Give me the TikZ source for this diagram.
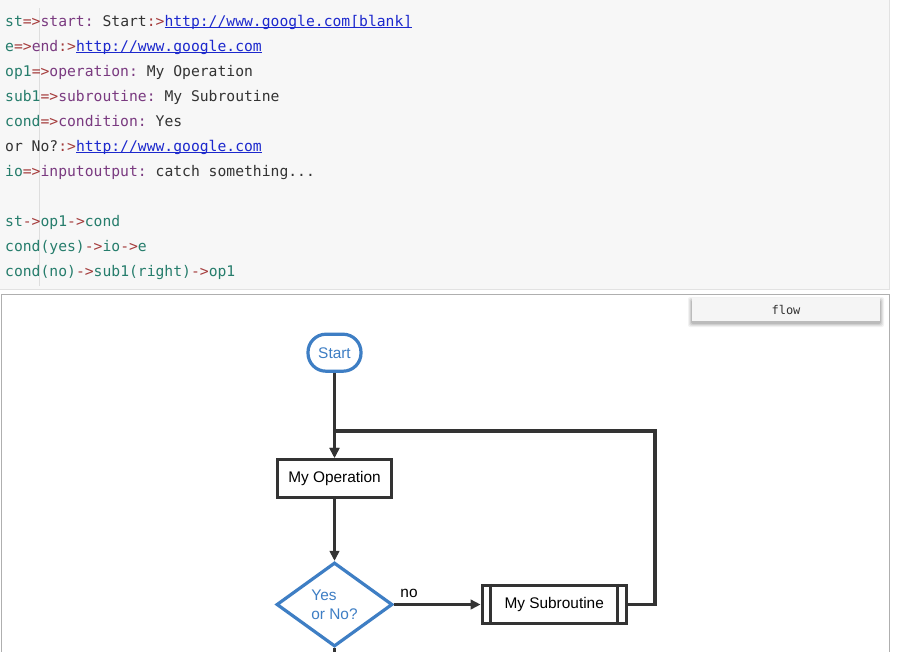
\documentclass[tikz,border=0pt]{standalone}
\usepackage{fontspec}
\setmonofont{DejaVu Sans Mono}
\newfontfamily\flowfont{Liberation Sans}
\usetikzlibrary{arrows.meta,shapes.geometric}
\definecolor{cteal}{RGB}{38,125,108}
\definecolor{cred}{RGB}{165,60,60}
\definecolor{cpurp}{RGB}{122,58,128}
\definecolor{cdark}{RGB}{51,51,51}
\definecolor{clink}{RGB}{28,40,205}
\definecolor{ccode}{RGB}{247,247,247}
\definecolor{cborder}{RGB}{226,226,226}
\definecolor{cpanel}{RGB}{175,175,175}
\definecolor{cbtn}{RGB}{245,245,245}
\definecolor{cblue}{RGB}{62,126,196}
\definecolor{cline}{RGB}{51,51,51}
\definecolor{cguide}{RGB}{222,222,222}
\newcommand\lnk[1]{{\color{clink}\setbox0\hbox{#1}\rlap{\rule[-2.4pt]{\wd0}{1pt}}\box0}}
\newcommand\tealtxt[1]{{\color{cteal}#1}}
\newcommand\redtxt[1]{{\color{cred}#1}}
\newcommand\purptxt[1]{{\color{cpurp}#1}}
\begin{document}
\begin{tikzpicture}[x=1pt,y=-1pt,
  code/.style={anchor=base west, inner sep=0pt, font=\ttfamily\fontsize{14.7}{17}\selectfont, text=cdark},
  flowline/.style={draw=cline, line width=3.2pt},
  arr/.style={flowline, -{Triangle[length=10pt,width=9.5pt]}},
  ffont/.style={font=\flowfont\fontsize{15.4}{19}\selectfont},
  startbox/.style={ffont, draw=cblue, fill=white, line width=3.2pt, rounded corners=18pt, minimum width=53pt, minimum height=37pt, inner sep=0pt, text=cblue},
  opbox/.style={ffont, draw=cline, fill=white, line width=3.2pt, minimum width=114pt, minimum height=38pt, inner sep=0pt, text=black},
  condbox/.style={ffont, shape=diamond, draw=cblue, fill=white, line width=3.2pt, minimum width=116pt, minimum height=84pt, inner sep=0pt, text=cblue, align=left},
  subbox/.style={ffont, draw=cline, fill=white, line width=3.2pt, minimum width=144pt, minimum height=38pt, inner sep=0pt, text=black},
  btn/.style={fill=cbtn, minimum width=188pt, minimum height=23pt, inner sep=0pt, text=cdark, font=\ttfamily\fontsize{12}{14}\selectfont},
  lbl/.style={ffont, text=black, inner sep=0pt}
]
\useasboundingbox (0,0) rectangle (897,651);
\clip (0,0) rectangle (897,651);
\fill[white] (0,0) rectangle (897,651);
% code block
\path[fill=ccode, draw=cborder, line width=1pt] (-2,-2) rectangle (889,289);
\draw[cguide, line width=0.8pt] (39.5,8) -- (39.5,286);
\node[code] (l1) at (5,26) {\tealtxt{st}\redtxt{=>}\purptxt{start:} Start\redtxt{:>}\lnk{http://www.google.com[blank]}};
\node[code] (l2) at (5,51) {\tealtxt{e}\redtxt{=>}\purptxt{end}\redtxt{:>}\lnk{http://www.google.com}};
\node[code] (l3) at (5,76) {\tealtxt{op1}\redtxt{=>}\purptxt{operation:} My Operation};
\node[code] (l4) at (5,101) {\tealtxt{sub1}\redtxt{=>}\purptxt{subroutine:} My Subroutine};
\node[code] (l5) at (5,126) {\tealtxt{cond}\redtxt{=>}\purptxt{condition:} Yes};
\node[code] (l6) at (5,151) {or No?\redtxt{:>}\lnk{http://www.google.com}};
\node[code] (l7) at (5,176) {\tealtxt{io}\redtxt{=>}\purptxt{inputoutput:} catch something...};
\node[code] (l8) at (5,226) {\tealtxt{st}\redtxt{->}\tealtxt{op1}\redtxt{->}\tealtxt{cond}};
\node[code] (l9) at (5,251) {\tealtxt{cond(yes)}\redtxt{->}\tealtxt{io}\redtxt{->}\tealtxt{e}};
\node[code] (l10) at (5,276) {\tealtxt{cond(no)}\redtxt{->}\tealtxt{sub1(right)}\redtxt{->}\tealtxt{op1}};
% panel
\path[fill=white, draw=cpanel, line width=1pt] (1,294) rectangle (889,700);
% button shadow
\foreach \s/\o in {4/0.05,3/0.06,2/0.08,1/0.10}{
  \fill[black, opacity=\o, rounded corners=2pt] (692-\s,298-\s+3) rectangle (880+\s,321+\s+2);
}
\node[btn] (flowbtn) at (786,309.5) {flow};
% flowchart
\node[startbox] (st) at (334.5,352.7) {Start};
\node[opbox] (op1) at (334.5,478.5) {My Operation};
\node[condbox] (cond) at (334.5,604.5) {Yes\\or No?};
\node[subbox] (sub) at (554.2,604.5) {My Subroutine};
\draw[flowline] ([xshift=10pt]sub.north west) -- ([xshift=10pt]sub.south west);
\draw[flowline] ([xshift=-10pt]sub.north east) -- ([xshift=-10pt]sub.south east);
\coordinate (loopc) at (655,431);
\coordinate (cdown) at (334.5,670);
\draw[arr] (st.south) -- (op1.north);
\draw[arr] (sub.east) -| (loopc) -| (op1.north);
\draw[arr] (op1.south) -- (cond.north);
\draw[arr] (cond.east) -- (sub.west);
\draw[flowline] (cond.south) -- (cdown);
\node[lbl] (nolbl) at (409,593.5) {no};
\end{tikzpicture}
\end{document}
